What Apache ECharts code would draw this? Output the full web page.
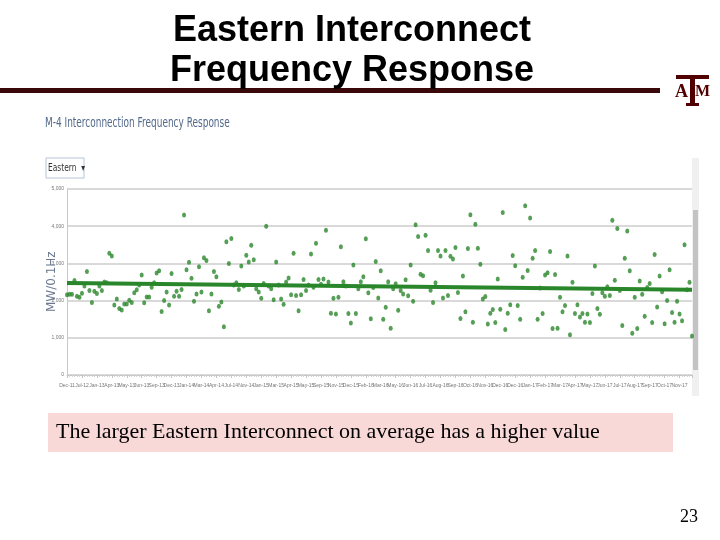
<!DOCTYPE html>
<html>
<head>
<meta charset="utf-8">
<script src="https://cdn.jsdelivr.net/npm/echarts@6/dist/echarts.min.js"></script>
<style>
  html, body { margin: 0; padding: 0; background: #fff; }
  #chart { width: 720px; height: 540px; }
</style>
</head>
<body>
<div id="chart"></div>
<script>
// frequency response per event, MW/0.1Hz, in event order
const responseValues = [
  2160, 2170, 2170, 2540, 2120, 2090, 2200, 2390, 2780, 2270, 1950, 2250, 2190, 2390, 2270, 2500, 2480, 3270, 3200, 1880,
  2040, 1790, 1750, 1910, 1910, 2010, 1950, 2210, 2290, 2420, 2690, 1940, 2100, 2100, 2360, 2480, 2740, 2800, 1710, 2000,
  2230, 1880, 2730, 2120, 2250, 2120, 2300, 4300, 2830, 3030, 2600,
  1980, 2180, 2910, 2230, 3150, 3080, 1730, 2180, 2780, 2640, 1850, 1960, 1300, 3580, 3000, 3670, 2420, 2480, 2300, 2930,
  2390, 3220, 3040, 3490, 3100, 2320, 2230, 2060, 2460, 4000, 2390, 2320, 2020, 3040, 2420, 2040, 1900, 2500, 2610, 2160,
  3270, 2140, 1730, 2160, 2570, 2270, 2420, 3250, 2360, 3540,
  2570, 2440, 2580, 3890, 2500, 1660, 2060, 1640, 2090, 3450, 2510, 2390, 1650, 1400, 2960, 1650, 2320, 2510, 2640, 3660,
  2210, 1510, 2350, 3050, 2070, 2800, 1500, 1820, 2510, 1260, 2320, 2450, 1740, 2270, 2180, 2560, 2130, 2960, 1980, 4040,
  3720, 2710, 2670, 3760, 3350, 2280, 1950, 2480, 3350, 3200,
  2070, 3350, 2140, 3190, 3120, 3430, 2220, 1520, 2660, 1700, 3400, 4310, 1420, 4050, 3410, 2980, 2040, 2110, 1370, 1660,
  1760, 1410, 2580, 1770, 4370, 1220, 1660, 1890, 3210, 2940, 1870, 1500, 2630, 4550, 2810, 4220, 3140, 3350, 1500, 2340,
  1650, 2690, 2750, 3320, 1250, 2700, 1260, 2090, 1700,
  1870, 3200, 1080, 2490, 1650, 1890, 1560, 1650, 1420, 1640, 1410, 2190, 2930, 1790, 1630, 2210, 2120, 2370, 2140, 4160,
  2550, 3940, 2270, 1330, 3140, 3870, 2800, 1120, 2090, 1250, 2530, 2170, 1580, 2350, 2460, 1410, 3240, 1830, 2660, 2240,
  1380, 2000, 2830, 1680, 1420, 1980, 1640, 1460, 3500, 2290, 2490, 1050
];

// linear trend, value at first and last event
const trendValues = [2470, 2290];

// one date label every 6 events
const tickLabels = [
  'Dec-11', 'Jul-12', 'Jan-13', 'Apr-13', 'May-13', 'Jun-13', 'Sep-13', 'Dec-13', 'Jan-14', 'Mar-14',
  'Apr-14', 'Jul-14', 'Nov-14', 'Jan-15', 'Mar-15', 'Apr-15', 'May-15', 'Sep-15', 'Nov-15', 'Dec-15',
  'Feb-16', 'Mar-16', 'May-16', 'Jun-16', 'Jul-16', 'Aug-16', 'Sep-16', 'Oct-16', 'Nov-16', 'Dec-16',
  'Dec-16', 'Jan-17', 'Feb-17', 'Mar-17', 'Apr-17', 'May-17', 'Jun-17', 'Jul-17', 'Aug-17', 'Sep-17',
  'Oct-17', 'Nov-17'
];

const lastIdx = responseValues.length - 1;
const green = '#2a862a';
const maroon = '#500000';

const chart = echarts.init(document.getElementById('chart'));

chart.setOption({
  backgroundColor: '#fff',
  animation: false,
  grid: { left: 67, right: 28, top: 189, bottom: 165 },
  xAxis: {
    type: 'value',
    min: 0,
    max: lastIdx,
    interval: 6,
    axisLine: { lineStyle: { color: '#c4c4c4' } },
    axisTick: { length: 3, lineStyle: { color: '#c4c4c4' } },
    minorTick: { show: true, splitNumber: 6, length: 2, lineStyle: { color: '#d4d4d4' } },
    splitLine: { show: false },
    axisLabel: {
      fontSize: 5,
      color: '#777',
      margin: 8,
      formatter: v => tickLabels[v / 6] || ''
    }
  },
  yAxis: {
    type: 'value',
    min: 0,
    max: 5000,
    interval: 1000,
    axisLine: { show: true, lineStyle: { color: '#c8c8c8' } },
    axisTick: { show: false },
    splitLine: { lineStyle: { color: '#d9d9d9', width: 2 } },
    axisLabel: {
      fontSize: 5,
      color: '#777',
      margin: 3,
      formatter: v => String(v).replace(/\B(?=(\d{3})+(?!\d))/g, ',')
    }
  },
  series: [
    {
      type: 'line',
      data: [[0, trendValues[0]], [lastIdx, trendValues[1]]],
      showSymbol: false,
      lineStyle: { color: green, width: 4 },
      z: 2
    },
    {
      type: 'scatter',
      data: responseValues.map((v, i) => [i, v]),
      symbol: 'circle',
      symbolSize: [4, 5],
      itemStyle: { color: green },
      z: 3
    }
  ],
  graphic: [
    // slide title
    {
      type: 'text', x: 352, y: 11, z: 10,
      style: {
        text: 'Eastern Interconnect\nFrequency Response',
        font: 'bold 36px "Liberation Sans", Arial, sans-serif',
        lineHeight: 40, fill: '#000', align: 'center'
      }
    },
    // maroon rule under the title
    { type: 'rect', shape: { x: 0, y: 88, width: 660, height: 5 }, style: { fill: '#3a0808' } },
    // Texas A&M mark
    { type: 'rect', shape: { x: 676, y: 75, width: 33, height: 4 }, style: { fill: maroon } },
    { type: 'rect', shape: { x: 690, y: 75, width: 5, height: 31 }, style: { fill: maroon } },
    { type: 'rect', shape: { x: 686, y: 103, width: 13, height: 3 }, style: { fill: maroon } },
    {
      type: 'text', x: 675, y: 83,
      style: { text: 'A', font: 'bold 18px "Liberation Serif", serif', fill: maroon }
    },
    {
      type: 'text', x: 695, y: 84,
      style: { text: 'M', font: 'bold 16px "Liberation Serif", serif', fill: maroon }
    },
    // screenshot header
    {
      type: 'text', x: 45, y: 116, scaleX: 0.64,
      style: {
        text: 'M-4 Interconnection Frequency Response',
        font: '14px "DejaVu Sans", sans-serif', fill: '#52698a'
      }
    },
    // region selector
    {
      type: 'rect', shape: { x: 46, y: 158, width: 38, height: 20 },
      style: { fill: '#fff', stroke: '#b8c4d4', lineWidth: 1 }
    },
    {
      type: 'text', x: 48, y: 163, scaleX: 0.75,
      style: { text: 'Eastern  \u25BE', font: '10px "DejaVu Sans", sans-serif', fill: '#333' }
    },
    // y axis name, partly cut off in the screenshot
    {
      type: 'text', x: 46, y: 312, rotation: Math.PI / 2,
      style: { text: 'MW/0.1Hz', font: '12px "DejaVu Sans", sans-serif', fill: '#6a7890' }
    },
    // scrollbar
    { type: 'rect', shape: { x: 692, y: 158, width: 7, height: 238 }, style: { fill: '#f0f0f0' } },
    { type: 'rect', shape: { x: 693, y: 210, width: 5, height: 160 }, style: { fill: '#c3c3c3' } },
    // comment box
    { type: 'rect', shape: { x: 48, y: 413, width: 625, height: 39 }, style: { fill: '#f9d8d8' } },
    {
      type: 'text', x: 56, y: 421,
      style: {
        text: 'The larger Eastern Interconnect on average has a higher value',
        font: '22px "Liberation Serif", "Times New Roman", serif', fill: '#000'
      }
    },
    // page number
    {
      type: 'text', x: 680, y: 508,
      style: { text: '23', font: '18px "Liberation Serif", serif', fill: '#000' }
    }
  ]
});
</script>
</body>
</html>
